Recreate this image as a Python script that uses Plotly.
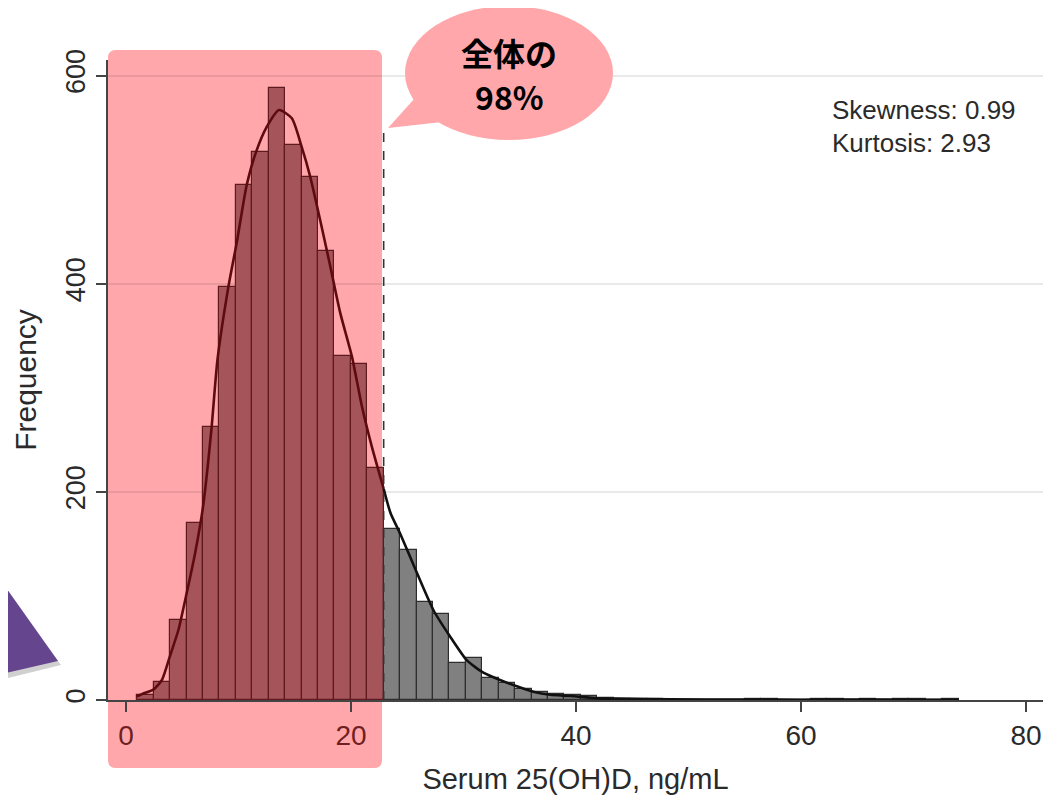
import plotly.graph_objects as go

# ---------------- data ----------------
BIN_START = 1.0
BIN_WIDTH = 1.46
COUNTS = [5, 17, 77, 170, 262, 397, 495, 527, 588, 533,
          503, 431, 331, 323, 223, 164, 144, 94, 83, 36,
          40, 21, 16, 11, 8, 6, 5, 4, 2, 1,
          1, 1, 0, 0, 0, 0, 0, 1, 1, 0,
          0, 1, 1, 0, 1, 0, 1, 1, 0, 1]
CUT = 22.9          # 98% cut point (ng/mL)
DASH_TOP = 548      # top of dashed reference line (frequency units)

CURVE_X = [0.95, 1.5, 2.43, 3.18, 3.9, 4.65, 5.4, 6.14, 6.85, 7.6,
           8.13, 9.1, 9.85, 10.73, 11.57, 12.52, 13.6, 14.74, 15.6, 16.37,
           17.26, 18.15, 19.04, 20.08, 20.97, 21.86, 22.9, 23.5, 24.4, 25.86,
           27.34, 28.8, 30.3, 31.8, 33.3, 34.8, 36.2, 37.7, 39.5, 41.9,
           43.7, 48.4, 55, 60, 65, 70, 74]
CURVE_Y = [3.5, 6, 10, 19, 42, 67, 103, 141, 186, 261,
           327, 397, 440, 495, 527, 551, 567, 559, 532, 503,
           461, 417, 372, 330, 282, 243, 203, 180, 159, 122,
           86, 61, 38, 26, 19, 13, 8, 5, 3.8, 1.6,
           1.3, 0.6, 0.4, 0.3, 0.4, 0.3, 0.1]

X_TICKS = [0, 20, 40, 60, 80]
Y_TICKS = [0, 200, 400, 600]
X_TITLE = "Serum 25(OH)D, ng/mL"
Y_TITLE = "Frequency"
STATS_LINES = ["Skewness: 0.99", "Kurtosis: 2.93"]
BUBBLE_LINES = ["全体の", "98%"]

# ---------------- styles ----------------
PINK = "#FFA7AA"
BAR_IN = "#A5555A"
BAR_IN_LINE = "#5E1A1F"
BAR_OUT = "#808080"
BAR_OUT_LINE = "#2E2E2E"
CURVE_IN = "#5E0B10"
CURVE_OUT = "#111111"
TXT = "#2a2a2a"
TXT_IN = "#6E1F22"
FONT = "Liberation Sans, Arial, sans-serif"

# page body has an 8px margin: figure origin sits at (8, 8) on screen
OFF = 8
SCREEN_W, SCREEN_H = 1052, 805
PLOT_L, PLOT_R, PLOT_T, PLOT_B = 108, 1043, 60, 700   # plot area in screen pixels
W, H = SCREEN_W - OFF, SCREEN_H - OFF
ML, MT = PLOT_L - OFF, PLOT_T - OFF
MR, MB = SCREEN_W - PLOT_R, SCREEN_H - PLOT_B
PW, PH = PLOT_R - PLOT_L, PLOT_B - PLOT_T


def px(x):  # screen pixel -> paper x
    return (x - PLOT_L) / PW


def py(y):  # screen pixel -> paper y
    return (PLOT_B - y) / PH


centers = [BIN_START + BIN_WIDTH * (i + 0.5) for i in range(len(COUNTS))]
inside = [c < CUT for c in centers]

fig = go.Figure()
fig.add_trace(go.Bar(
    x=centers, y=COUNTS, width=[BIN_WIDTH] * len(COUNTS),
    marker=dict(color=[BAR_IN if f else BAR_OUT for f in inside],
                line=dict(color=[BAR_IN_LINE if f else BAR_OUT_LINE for f in inside], width=1.2)),
    hoverinfo="skip", showlegend=False))

cx_in = [x for x in CURVE_X if x <= CUT]
cy_in = [y for x, y in zip(CURVE_X, CURVE_Y) if x <= CUT]
cx_out = [x for x in CURVE_X if x >= CUT]
cy_out = [y for x, y in zip(CURVE_X, CURVE_Y) if x >= CUT]
fig.add_trace(go.Scatter(x=cx_in, y=cy_in, mode="lines",
                         line=dict(color=CURVE_IN, width=2.6, shape="spline", smoothing=0.6),
                         hoverinfo="skip", showlegend=False))
fig.add_trace(go.Scatter(x=cx_out, y=cy_out, mode="lines",
                         line=dict(color=CURVE_OUT, width=2.6, shape="spline", smoothing=0.6),
                         hoverinfo="skip", showlegend=False))

# pink highlight rectangle with rounded corners (paper coords)
x0, x1, y0, y1 = px(108), px(382), py(768), py(50)
rx, ry = 8 / PW, 8 / PH
rect_path = (f"M{x0+rx},{y1} L{x1-rx},{y1} Q{x1},{y1} {x1},{y1-ry} "
             f"L{x1},{y0+ry} Q{x1},{y0} {x1-rx},{y0} L{x0+rx},{y0} "
             f"Q{x0},{y0} {x0},{y0+ry} L{x0},{y1-ry} Q{x0},{y1} {x0+rx},{y1} Z")
shapes = [
    dict(type="path", path=rect_path, xref="paper", yref="paper",
         fillcolor=PINK, line=dict(width=0), layer="below"),
    # dashed reference line
    dict(type="line", xref="x", yref="y", x0=CUT, x1=CUT, y0=0, y1=DASH_TOP,
         line=dict(color="#333333", width=1.6, dash="dash"), layer="above"),
    # speech bubble
    dict(type="circle", xref="paper", yref="paper",
         x0=px(405), x1=px(613), y0=py(140), y1=py(6),
         fillcolor=PINK, line=dict(width=0), layer="above"),
    dict(type="path", xref="paper", yref="paper",
         path=f"M{px(415)},{py(98)} L{px(388)},{py(128)} L{px(442)},{py(122)} Z",
         fillcolor=PINK, line=dict(width=0), layer="above"),
    # purple arrow tip at left (shadow then shape)
    dict(type="path", xref="paper", yref="paper",
         path=f"M{px(-20)},{py(556)} L{px(61)},{py(665)} L{px(-20)},{py(685)} Z",
         fillcolor="rgba(120,120,120,0.35)", line=dict(width=0), layer="above"),
    dict(type="path", xref="paper", yref="paper",
         path=f"M{px(-20)},{py(551)} L{px(58)},{py(661)} L{px(-20)},{py(679)} Z",
         fillcolor="#65468E", line=dict(width=0), layer="above"),
]

annotations = []
for txt, yc in zip(BUBBLE_LINES, [py(52), py(96)]):
    annotations.append(dict(text=txt, xref="paper", yref="paper", x=px(509), y=yc,
                            xanchor="center", yanchor="middle", showarrow=False,
                            font=dict(family="Noto Sans CJK JP", size=32, color="#000000",
                                      weight="bold")))
for txt, yc in zip(STATS_LINES, [py(110), py(143)]):
    annotations.append(dict(text=txt, xref="paper", yref="paper", x=px(830), y=yc,
                            xanchor="left", yanchor="middle", showarrow=False,
                            font=dict(family=FONT, size=26, color=TXT)))

x_ticktext = [f'<span style="color:{TXT_IN}">{t}</span>' if t < CUT else str(t) for t in X_TICKS]

fig.update_layout(
    width=W, height=H,
    margin=dict(l=ML, r=MR, t=MT, b=MB, pad=0, autoexpand=False),
    paper_bgcolor="white", plot_bgcolor="white",
    bargap=0, shapes=shapes, annotations=annotations,
    font=dict(family=FONT, color=TXT),
    xaxis=dict(range=[-1.6, 81.5], tickvals=X_TICKS, ticktext=x_ticktext, automargin=False,
               showgrid=False, zeroline=False, showline=True, linecolor="#444444", linewidth=1.5,
               ticks="outside", ticklen=10, tickcolor="#444444", tickwidth=1.5,
               tickfont=dict(size=28, family=FONT, color=TXT),
               title=dict(text=X_TITLE, font=dict(size=29, family=FONT, color=TXT), standoff=18)),
    yaxis=dict(range=[0, 615], tickvals=Y_TICKS, tickangle=-90, automargin=False,
               showgrid=True, gridcolor="rgba(0,0,0,0.085)", gridwidth=1.5, zeroline=False,
               showline=True, linecolor="#444444", linewidth=1.5,
               ticks="outside", ticklen=10, tickcolor="#444444", tickwidth=1.5,
               tickfont=dict(size=27, family=FONT, color=TXT),
               title=dict(text=Y_TITLE, font=dict(size=30, family=FONT, color=TXT), standoff=16)),
)

fig.write_html("out.html", config={"displayModeBar": False})
